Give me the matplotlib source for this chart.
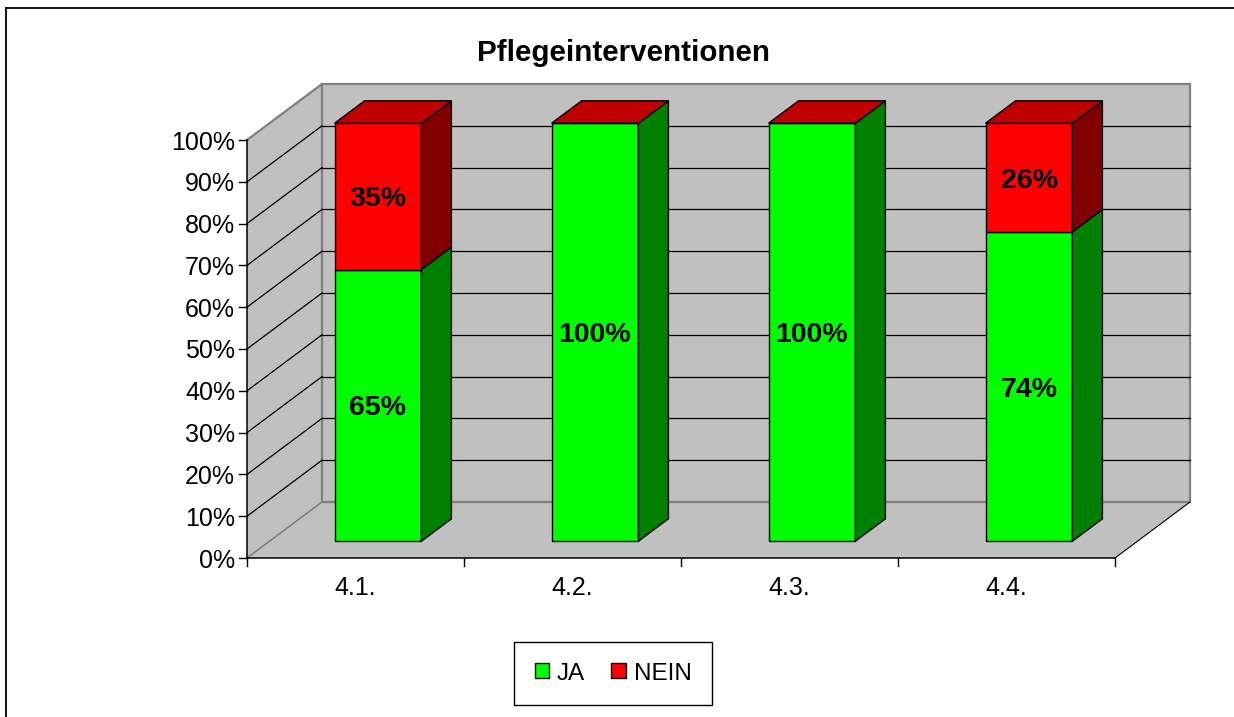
import matplotlib
matplotlib.use("Agg")
import matplotlib.pyplot as plt
from matplotlib.patches import Polygon, Rectangle, Patch
from matplotlib.lines import Line2D

plt.rcParams['font.family'] = ['Liberation Sans', 'DejaVu Sans']

# ---- data ----
title = "Pflegeinterventionen"
categories = ["4.1.", "4.2.", "4.3.", "4.4."]
ja_values = [65, 100, 100, 74]
nein_values = [35, 0, 0, 26]
series_names = ["JA", "NEIN"]
y_ticks = [0, 10, 20, 30, 40, 50, 60, 70, 80, 90, 100]

# ---- layout (pixel geometry of the pseudo-3D frame) ----
W, H = 1234, 717
X_PX0, CAT_PX = 247, 217.0     # front-left corner x, pixels per category
Y_PX0, PCT_PX = 558, 4.18      # 0% front y, pixels per percent
DX = 75 / CAT_PX               # full depth offset in category units
DY = 56 / PCT_PX               # full depth offset in percent units
T0, T1 = 0.3, 0.7              # bar depth span
HW = 0.2                       # bar half width

face_colors = {"JA": ("#00FF00", "#008000", "#00C000"),
               "NEIN": ("#FF0000", "#800000", "#C00000")}
WALL = "#C0C0C0"
EDGE = "#808080"

fig = plt.figure(figsize=(W / 100, H / 100), dpi=100)
ax = fig.add_axes([0, 0, 1, 1])
ax.set_xlim(-0.5 - X_PX0 / CAT_PX, -0.5 + (W - X_PX0) / CAT_PX)
ax.set_ylim(-(H - Y_PX0) / PCT_PX, Y_PX0 / PCT_PX)
ax.axis('off')

n = len(categories)
xl, xr = -0.5, n - 0.5
top = y_ticks[-1]

# walls and floor
floor = Polygon([(xl, 0), (xr, 0), (xr + DX, DY), (xl + DX, DY)], closed=True,
                fc=WALL, ec='none', zorder=1)
lwall = Polygon([(xl, 0), (xl, top), (xl + DX, top + DY), (xl + DX, DY)], closed=True,
                fc=WALL, ec='none', zorder=1)
bwall = Polygon([(xl + DX, DY), (xr + DX, DY), (xr + DX, top + DY), (xl + DX, top + DY)],
                closed=True, fc=WALL, ec=EDGE, lw=1.6, zorder=1)
for p in (floor, lwall, bwall):
    ax.add_patch(p)

# gray wall edges
ax.plot([xl, xl + DX], [0, DY], color=EDGE, lw=1.2, zorder=2)
ax.plot([xl, xl + DX], [top, top + DY], color=EDGE, lw=1.6, zorder=2)
# gridlines
for v in y_ticks[1:-1]:
    ax.plot([xl + DX, xr + DX], [v + DY, v + DY], color='black', lw=0.9, zorder=2)
    ax.plot([xl, xl + DX], [v, v + DY], color='black', lw=0.9, zorder=2)

# axes lines
ax.plot([xl, xr], [0, 0], color='black', lw=1.1, zorder=3)
ax.plot([xr, xr + DX], [0, DY], color='black', lw=0.8, zorder=3)
ax.plot([xl, xl], [0, top], color='black', lw=1.1, zorder=3)

# y ticks and labels
tick_len_x = 8 / CAT_PX
for v in y_ticks:
    ax.plot([xl - tick_len_x, xl], [v, v], color='black', lw=1.0, zorder=3)
    ax.text(xl - 12 / CAT_PX, v, f"{v}%", ha='right', va='center_baseline',
            fontsize=18, color='black')

# x ticks and labels
for k in range(n + 1):
    ax.plot([xl + k, xl + k], [0, -8 / PCT_PX], color='black', lw=1.0, zorder=3)
for i, c in enumerate(categories):
    ax.text(i, -37 / PCT_PX, c, ha='center', va='baseline', fontsize=18, color='black')

# bars
z = 5
for i in range(n):
    segs = [("JA", 0, ja_values[i]), ("NEIN", ja_values[i], ja_values[i] + nein_values[i])]
    for s_idx, (name, y0, y1) in enumerate(segs):
        fc, sc, tc = face_colors[name]
        fx0 = i - HW + T0 * DX
        fx1 = i + HW + T0 * DX
        bx1 = i + HW + T1 * DX
        front = Rectangle((fx0, y0 + T0 * DY), fx1 - fx0, y1 - y0, fc=fc, ec='black',
                          lw=1.0, zorder=z)
        side = Polygon([(fx1, y0 + T0 * DY), (bx1, y0 + T1 * DY), (bx1, y1 + T1 * DY),
                        (fx1, y1 + T0 * DY)], closed=True, fc=sc, ec='black', lw=1.0, zorder=z)
        ax.add_patch(front)
        ax.add_patch(side)
        if s_idx == len(segs) - 1:
            topf = Polygon([(fx0, y1 + T0 * DY), (fx1, y1 + T0 * DY), (bx1, y1 + T1 * DY),
                            (i - HW + T1 * DX, y1 + T1 * DY)], closed=True, fc=tc,
                           ec='black', lw=1.0, zorder=z)
            ax.add_patch(topf)
        val = y1 - y0
        if val > 0:
            ax.text(i + T0 * DX, (y0 + y1) / 2 + T0 * DY, f"{val}%", ha='center',
                    va='center_baseline', fontsize=20.5, fontweight='bold', color='black',
                    zorder=z + 1)
        z += 1

# title
fig.text(624 / W, 1 - 61 / H, title, ha='center', va='baseline', fontsize=21.3,
         fontweight='bold', color='black')

# outer chart border (only top and left visible)
fig.add_artist(Line2D([6 / W, 1], [1 - 7.5 / H, 1 - 7.5 / H], color='black', lw=1.3,
                      transform=fig.transFigure))
fig.add_artist(Line2D([6 / W, 6 / W], [0, 1 - 7.5 / H], color='black', lw=1.3,
                      transform=fig.transFigure))

# legend
handles = [Patch(facecolor=face_colors[s][0], edgecolor='black', label=s) for s in series_names]
leg = ax.legend(handles=handles, ncol=2, loc='center', bbox_to_anchor=(613 / W, 1 - 673.5 / H),
                bbox_transform=fig.transFigure, frameon=True, fancybox=False,
                edgecolor='black', framealpha=1, fontsize=17.5, handlelength=0.58,
                handleheight=0.58, handletextpad=0.33, columnspacing=1.1, borderpad=0.85)
leg.get_frame().set_linewidth(1.0)

fig.savefig("out.png", dpi=100)
